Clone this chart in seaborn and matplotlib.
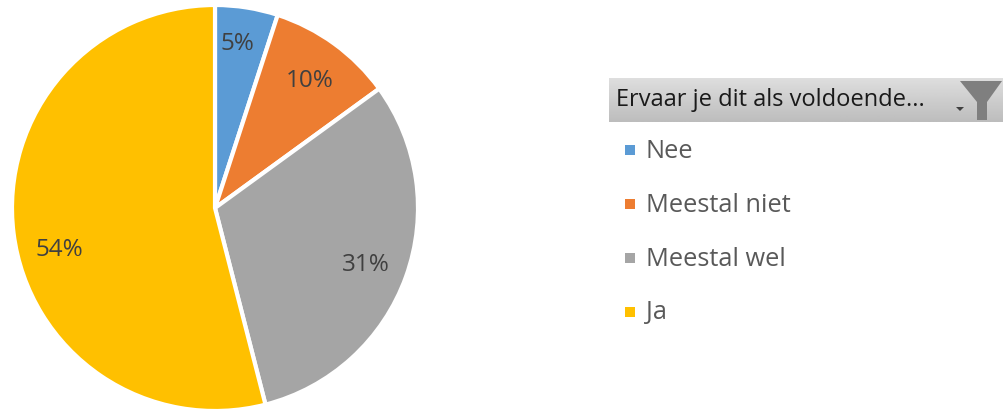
import numpy as np
import matplotlib
matplotlib.use("Agg")
import matplotlib.pyplot as plt
from matplotlib.patches import Polygon, Rectangle
import seaborn as sns

categories = ["Nee", "Meestal niet", "Meestal wel", "Ja"]
values = [5, 10, 31, 54]
colours = ["#5B9BD5", "#ED7D31", "#A5A5A5", "#FFC000"]
filter_title = "Ervaar je dit als voldoende..."

sns.set_theme(style="white")
plt.rcParams["font.family"] = ["Open Sans", "DejaVu Sans"]
palette = sns.color_palette(colours)

W, H = 1004, 409
fig = plt.figure(figsize=(W / 100, H / 100), dpi=100, facecolor="white")

cx, cy, r = 215, 208, 203
ax = fig.add_axes([(cx - r) / W, 1 - (cy + r) / H, 2 * r / W, 2 * r / H])
wedges, _ = ax.pie(values, colors=palette, startangle=90, counterclock=False, radius=1,
                   wedgeprops=dict(edgecolor="white", linewidth=3))
ax.set_xlim(-1, 1)
ax.set_ylim(-1, 1)
label_radius = [0.83, 0.79, 0.79, 0.79]
label_turn = [1.5, 0, 0, 7]
for w, v, lr, turn in zip(wedges, values, label_radius, label_turn):
    mid = np.deg2rad((w.theta1 + w.theta2) / 2 + turn)
    ax.text(lr * np.cos(mid), lr * np.sin(mid) - 0.014, f"{v}%", ha="center", va="center",
            fontsize=17.5, color="#404040")

ov = fig.add_axes([0, 0, 1, 1])
ov.set_xlim(0, W)
ov.set_ylim(H, 0)
ov.axis("off")
ov.patch.set_alpha(0)

grad = np.linspace(0.87, 0.74, 64)[:, None]
ov.imshow(grad, extent=(609, 1004, 122, 78), cmap="gray", vmin=0, vmax=1, aspect="auto", zorder=1)
ov.set_xlim(0, W)
ov.set_ylim(H, 0)
ov.text(616, 100, filter_title, fontsize=17, color="#1a1a1a", va="center", ha="left", zorder=3)
ov.add_patch(Polygon([[956, 107], [964, 107], [960, 111]], closed=True, fc="#404040", ec="none", zorder=3))
ov.add_patch(Polygon([[960, 81], [1002, 81], [987, 102], [987, 120], [977, 120], [977, 102]],
                     closed=True, fc="#7f7f7f", ec="none", zorder=3))

for y, name, col in zip([150, 204, 258, 312], categories, palette):
    ov.add_patch(Rectangle((625, y - 5), 10, 10, fc=col, ec="none", zorder=3))
    ov.text(646, y + 1, name, fontsize=18.3, color="#595959", va="center", ha="left", zorder=3)

fig.savefig("out.png", dpi=100, facecolor="white")
